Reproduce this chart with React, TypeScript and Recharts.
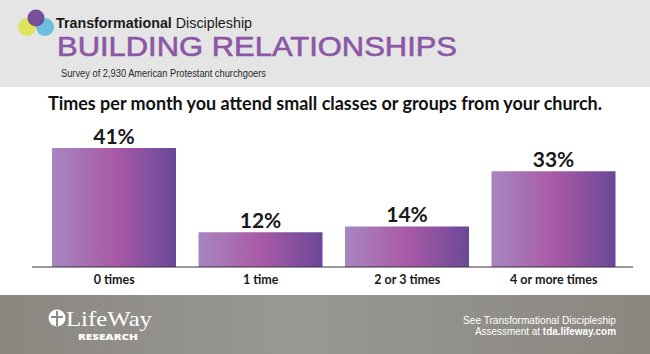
import React from "react";
import { BarChart, Bar, XAxis, YAxis, LabelList } from "recharts";

const categories = ["0 times", "1 time", "2 or 3 times", "4 or more times"];
const values = [41, 12, 14, 33];
const yTicks = [0, 50];

const data = categories.map((c, i) => ({ name: c, value: values[i] }));

const FONT = "Lato, 'Open Sans', sans-serif";

const ValueLabel = (props: any) => {
  const { x, y, width, value } = props;
  return (
    <text
      x={x + width / 2}
      y={y - 4}
      textAnchor="middle"
      fontFamily={FONT}
      fontWeight={700}
      fontSize={21}
      fill="#1a1a1a"
    >
      {value}%
    </text>
  );
};

const Tick = (props: any) => {
  const { x, y, payload } = props;
  return (
    <text
      x={x}
      y={y + 15}
      textAnchor="middle"
      fontFamily={FONT}
      fontWeight={700}
      fontSize={12.5}
      fill="#1a1a1a"
    >
      {payload.value}
    </text>
  );
};

function Background() {
  return (
    <svg width={650} height={354} style={{ position: "absolute", left: 0, top: 0 }}>
      <defs>
        <linearGradient id="footerGrad" x1="0" y1="0" x2="1" y2="0">
          <stop offset="0%" stopColor="#8a8781" />
          <stop offset="45%" stopColor="#9a9893" />
          <stop offset="100%" stopColor="#8a8781" />
        </linearGradient>
      </defs>
      <rect x={0} y={0} width={650} height={87} fill="#e5e5e5" />
      <rect x={0} y={87} width={650} height={208} fill="#ffffff" />
      <rect x={0} y={295} width={650} height={59} fill="url(#footerGrad)" />
      {/* logo circles */}
      <circle cx={27} cy={27} r={9} fill="#dfe34a" opacity={0.9} />
      <circle cx={45} cy={27} r={9} fill="#5db9dc" opacity={0.9} />
      <circle cx={36} cy={18} r={8.5} fill="#6a3f93" opacity={0.9} />
      <text x={56} y={28} fontFamily="'Liberation Sans', Arial, sans-serif" fontSize={14} fill="#1a1a1a" textLength={196} lengthAdjust="spacingAndGlyphs">
        <tspan fontWeight={700}>Transformational</tspan> Discipleship
      </text>
      <text x={57} y={56} fontFamily="'Liberation Sans', Arial, sans-serif" fontSize={27} fill="#8b57a6" stroke="#8b57a6" strokeWidth={0.6} textLength={400} lengthAdjust="spacingAndGlyphs">
        BUILDING RELATIONSHIPS
      </text>
      <text x={61} y={77} fontFamily="'Liberation Sans', Arial, sans-serif" fontSize={10} fill="#2a2a2a" textLength={205} lengthAdjust="spacingAndGlyphs">
        Survey of 2,930 American Protestant churchgoers
      </text>
      <text x={48} y={110} fontFamily={FONT} fontWeight={700} fontSize={18} fill="#111" textLength={554} lengthAdjust="spacingAndGlyphs">
        Times per month you attend small classes or groups from your church.
      </text>
      {/* footer logo */}
      <circle cx={57} cy={318} r={8.5} fill="#ffffff" />
      <path d="M56 311 h2 v5 h5 v2 h-5 v8 h-2 v-8 h-5 v-2 h5 z" fill="#8d8a84" />
      <text x={66} y={326} fontFamily="'Liberation Serif', 'DejaVu Serif', serif" fontSize={21} fill="#ffffff" textLength={86} lengthAdjust="spacingAndGlyphs">
        LifeWay
      </text>
      <text x={78} y={340} fontFamily="'Open Sans', sans-serif" fontWeight={800} fontSize={9} fill="#ffffff" textLength={60} lengthAdjust="spacingAndGlyphs">
        RESEARCH
      </text>
      <text x={616} y={324} textAnchor="end" fontFamily="'Liberation Sans', Arial, sans-serif" fontSize={10.5} fill="#ffffff" textLength={153} lengthAdjust="spacingAndGlyphs">
        See Transformational Discipleship
      </text>
      <text x={616} y={335} textAnchor="end" fontFamily="'Liberation Sans', Arial, sans-serif" fontSize={10.5} fill="#ffffff" textLength={141} lengthAdjust="spacingAndGlyphs">
        Assessment at <tspan fontWeight={700}>tda.lifeway.com</tspan>
      </text>
    </svg>
  );
}

export default function App() {
  return (
    <div style={{ position: "absolute", left: 0, top: 0, width: 650, height: 354, overflow: "hidden" }}>
      <Background />
      <div style={{ position: "absolute", left: 0, top: 0 }}>
        <BarChart
          width={650}
          height={354}
          data={data}
          margin={{ top: 122, right: 17, bottom: 67, left: 32 }}
        >
          <defs>
            <linearGradient id="barGrad" x1="0" y1="0" x2="1" y2="0">
              <stop offset="0%" stopColor="#a886c0" />
              <stop offset="50%" stopColor="#a95aa6" />
              <stop offset="100%" stopColor="#6a4898" />
            </linearGradient>
          </defs>
          <XAxis
            dataKey="name"
            height={20}
            padding={{ left: 9, right: 6 }}
            axisLine={{ stroke: "#333", strokeWidth: 1 }}
            tickLine={false}
            tickSize={0}
            tick={<Tick />}
            interval={0}
          />
          <YAxis hide domain={[yTicks[0], yTicks[1]]} ticks={yTicks} />
          <Bar dataKey="value" fill="url(#barGrad)" barSize={124} isAnimationActive={false}>
            <LabelList dataKey="value" content={<ValueLabel />} />
          </Bar>
        </BarChart>
      </div>
    </div>
  );
}
